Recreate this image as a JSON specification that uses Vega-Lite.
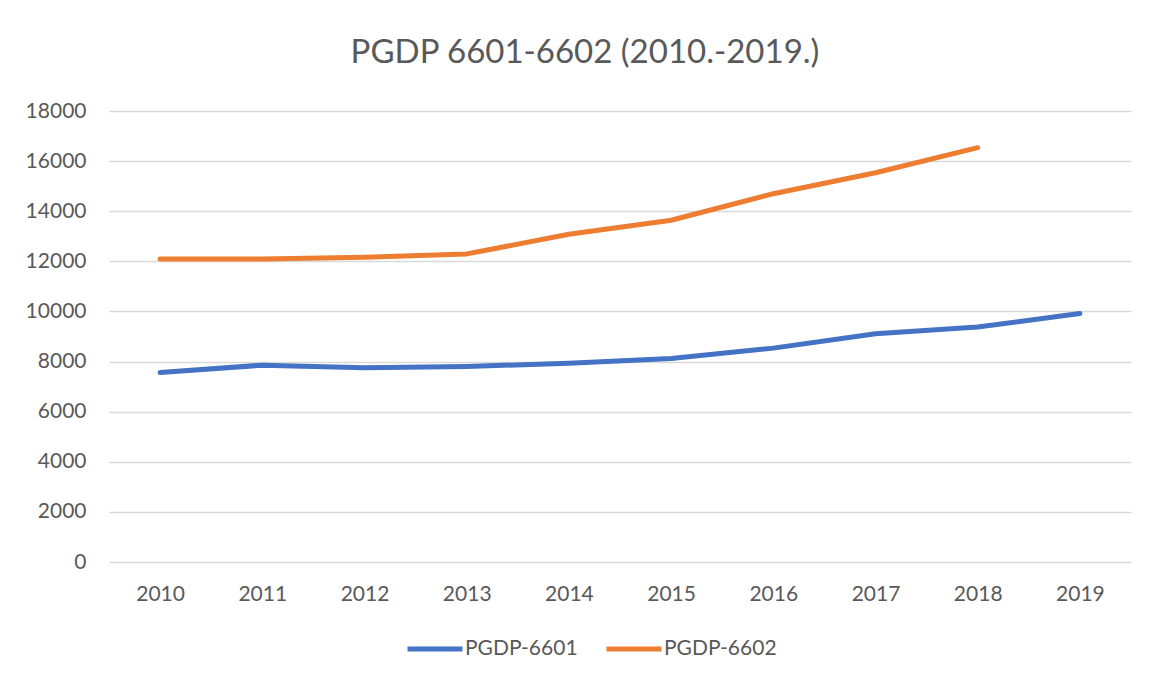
{
  "$schema": "https://vega.github.io/schema/vega-lite/v6.json",
  "autosize": {"type": "none"},
  "width": 1022,
  "height": 451,
  "padding": {"left": 109, "top": 111, "right": 20, "bottom": 116},
  "background": "white",
  "title": {
    "text": "PGDP 6601-6602 (2010.-2019.)",
    "anchor": "middle",
    "baseline": "alphabetic",
    "offset": 4,
    "dx": -35,
    "font": "Lato",
    "fontSize": 33,
    "fontWeight": "normal",
    "color": "#595959"
  },
  "data": {
    "values": [
      {"year": "2010", "series": "PGDP-6601", "value": 7560},
      {"year": "2011", "series": "PGDP-6601", "value": 7856},
      {"year": "2012", "series": "PGDP-6601", "value": 7748},
      {"year": "2013", "series": "PGDP-6601", "value": 7800},
      {"year": "2014", "series": "PGDP-6601", "value": 7936},
      {"year": "2015", "series": "PGDP-6601", "value": 8120},
      {"year": "2016", "series": "PGDP-6601", "value": 8536},
      {"year": "2017", "series": "PGDP-6601", "value": 9108},
      {"year": "2018", "series": "PGDP-6601", "value": 9376},
      {"year": "2019", "series": "PGDP-6601", "value": 9920},
      {"year": "2010", "series": "PGDP-6602", "value": 12096},
      {"year": "2011", "series": "PGDP-6602", "value": 12096},
      {"year": "2012", "series": "PGDP-6602", "value": 12160},
      {"year": "2013", "series": "PGDP-6602", "value": 12296},
      {"year": "2014", "series": "PGDP-6602", "value": 13080},
      {"year": "2015", "series": "PGDP-6602", "value": 13640},
      {"year": "2016", "series": "PGDP-6602", "value": 14700},
      {"year": "2017", "series": "PGDP-6602", "value": 15536},
      {"year": "2018", "series": "PGDP-6602", "value": 16536}
    ]
  },
  "mark": {"type": "line", "strokeWidth": 5, "strokeCap": "round", "strokeJoin": "round"},
  "encoding": {
    "x": {
      "field": "year",
      "type": "ordinal",
      "scale": {"type": "point", "padding": 0.5},
      "axis": {
        "title": null,
        "labelAngle": 0,
        "domain": false,
        "ticks": false,
        "grid": false,
        "labelPadding": 21,
        "labelFont": "Lato",
        "labelFontSize": 21,
        "labelColor": "#595959"
      }
    },
    "y": {
      "field": "value",
      "type": "quantitative",
      "scale": {"domain": [0, 18000], "nice": false},
      "axis": {
        "title": null,
        "values": [0, 2000, 4000, 6000, 8000, 10000, 12000, 14000, 16000, 18000],
        "format": "d",
        "domain": false,
        "ticks": false,
        "labelPadding": 23,
        "labelFont": "Lato",
        "labelFontSize": 21,
        "labelColor": "#595959",
        "gridColor": "#D9D9D9",
        "gridWidth": 1.5
      }
    },
    "color": {
      "field": "series",
      "type": "nominal",
      "scale": {"domain": ["PGDP-6601", "PGDP-6602"], "range": ["#4472C4", "#ED7D31"]},
      "legend": {
        "title": null,
        "orient": "none",
        "direction": "horizontal",
        "legendX": 296,
        "legendY": 508,
        "symbolType": "stroke",
        "symbolSize": 3025,
        "symbolStrokeWidth": 5,
        "labelFont": "Lato",
        "labelFontSize": 21,
        "labelColor": "#595959",
        "labelOffset": 0,
        "columnPadding": 18
      }
    }
  },
  "config": {
    "view": {"stroke": null}
  }
}
